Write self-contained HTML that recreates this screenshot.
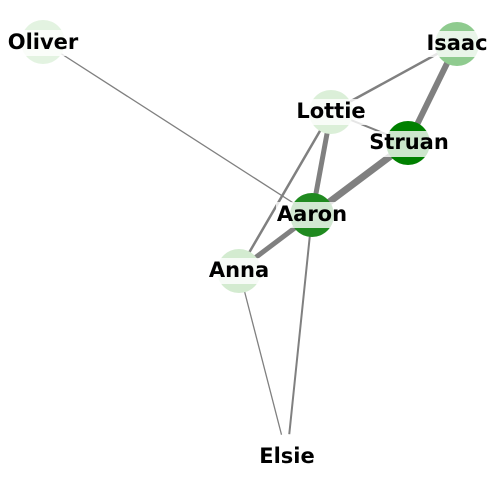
<!DOCTYPE html>
<html><head><style>html,body{margin:0;padding:0;background:#fff}svg{display:block}
text{font-family:"DejaVu Sans","Liberation Sans",sans-serif;font-weight:bold;font-size:21px;text-anchor:middle;dominant-baseline:central;fill:#000}</style></head>
<body>
<svg width="500" height="500" viewBox="0 0 500 500" xmlns="http://www.w3.org/2000/svg">
<g stroke="#808080" stroke-linecap="round">
<line x1="43" y1="42" x2="312" y2="215" stroke-width="1.3"/>
<line x1="457" y1="43" x2="331" y2="112" stroke-width="2.5"/>
<line x1="457" y1="43" x2="408" y2="143" stroke-width="6"/>
<line x1="331" y1="112" x2="408" y2="143" stroke-width="2"/>
<line x1="331" y1="112" x2="312" y2="215" stroke-width="5"/>
<line x1="331" y1="112" x2="239" y2="270" stroke-width="2.5"/>
<line x1="408" y1="143" x2="312" y2="215" stroke-width="7"/>
<line x1="312" y1="215" x2="239" y2="270" stroke-width="5"/>
<line x1="312" y1="215" x2="287" y2="456" stroke-width="2"/>
<line x1="239" y1="270" x2="287" y2="456" stroke-width="1.3"/>
</g>
<circle cx="43" cy="42" r="22" fill="#e3f3e1"/>
<circle cx="457" cy="44" r="22" fill="#8fcb8f"/>
<circle cx="331" cy="112" r="22" fill="#dbefd8"/>
<circle cx="408" cy="143" r="22" fill="#008000"/>
<circle cx="312" cy="215" r="22" fill="#208a20"/>
<circle cx="239" cy="271" r="22" fill="#d3ebd0"/>
<circle cx="287" cy="456" r="22" fill="#ffffff"/>
<g fill="#fff" fill-opacity="0.8">
<rect x="6" y="30" width="74" height="26"/>
<rect x="425" y="31" width="64" height="26"/>
<rect x="295" y="99" width="72" height="26"/>
<rect x="369" y="131" width="80" height="26"/>
<rect x="276" y="202" width="72" height="26"/>
<rect x="208" y="258" width="62" height="26"/>
<rect x="257" y="444" width="60" height="26"/>
</g>
<text x="43" y="42">Oliver</text>
<text x="457" y="43">Isaac</text>
<text x="331" y="111">Lottie</text>
<text x="409" y="142">Struan</text>
<text x="312" y="214">Aaron</text>
<text x="239" y="270">Anna</text>
<text x="287" y="456">Elsie</text>
</svg>
</body></html>
